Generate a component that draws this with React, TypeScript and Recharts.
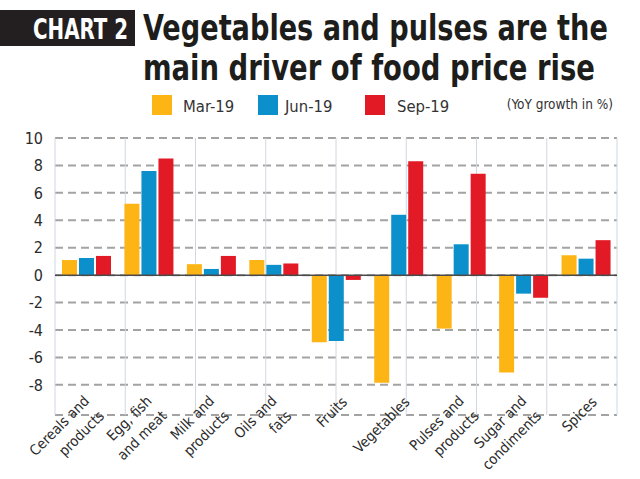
import { useLayoutEffect, useRef, useState } from 'react'
import { BarChart, Bar, XAxis, YAxis, CartesianGrid, ReferenceLine } from 'recharts'

const categories = [
  'Cereals and products',
  'Egg, fish and meat',
  'Milk and products',
  'Oils and fats',
  'Fruits',
  'Vegetables',
  'Pulses and products',
  'Sugar and condiments',
  'Spices',
]
// how each category name is broken over lines under the axis
const tickLabels = [
  ['Cereals and', 'products'],
  ['Egg, fish', 'and meat'],
  ['Milk and', 'products'],
  ['Oils and', 'fats'],
  ['Fruits'],
  ['Vegetables'],
  ['Pulses and', 'products'],
  ['Sugar and', 'condiments'],
  ['Spices'],
]
const mar19 = [1.1, 5.2, 0.8, 1.1, -4.9, -7.85, -3.9, -7.1, 1.45]
const jun19 = [1.25, 7.6, 0.45, 0.75, -4.8, 4.4, 2.25, -1.35, 1.2]
const sep19 = [1.4, 8.5, 1.4, 0.85, -0.35, 8.3, 7.4, -1.65, 2.55]
const yTicks = [-8, -6, -4, -2, 0, 2, 4, 6, 8, 10]
const separators = [1, 2, 3, 4, 5, 6, 7, 8]

const series = [
  { key: 'mar', name: 'Mar-19', color: '#FDB515' },
  { key: 'jun', name: 'Jun-19', color: '#0B90CB' },
  { key: 'sep', name: 'Sep-19', color: '#E21A25' },
]

const data = categories.map((c, i) => ({ cat: c, idx: i, mar: mar19[i], jun: jun19[i], sep: sep19[i] }))

const NARROW = '"Liberation Sans Narrow", "DejaVu Sans Condensed", sans-serif'

// squeezes a line horizontally so it spans the given width (the original uses a condensed face)
function FitText({ x, y, width, children, ...rest }: any) {
  const ref = useRef<SVGTextElement>(null)
  const [sx, setSx] = useState(1)
  useLayoutEffect(() => {
    if (ref.current) {
      const w = ref.current.getComputedTextLength()
      if (w > 0) setSx(width / w)
    }
  }, [width])
  return (
    <text ref={ref} transform={`translate(${x},${y}) scale(${sx},1)`} {...rest}>
      {children}
    </text>
  )
}

function CategoryTick({ x, y, index }: any) {
  const lines = tickLabels[index] || []
  const single = lines.length < 2
  const bx = x + (single ? 12 : 4)
  const by = y - (single ? 14 : 15)
  return (
    <g transform={`translate(${bx},${by}) rotate(-45)`}>
      <text textAnchor="end" fontSize={14.5} fill="#2b2b2b" fontFamily={NARROW}>
        {lines.map((l, i) => (
          <tspan key={i} x={0} dy={i === 0 ? 0 : 21}>{l}</tspan>
        ))}
      </text>
    </g>
  )
}

export default function App() {
  return (
    <div style={{ position: 'absolute', left: 0, top: 0, width: 640, height: 479, background: '#fff', fontFamily: NARROW }}>
      <svg width={640} height={130} style={{ position: 'absolute', left: 0, top: 0 }}>
        <rect x={0} y={10} width={135} height={36} fill="#231f20" />
        <FitText x={33} y={39} width={95} fontSize={28} fontWeight="bold" fill="#fff">CHART 2</FitText>
        <FitText x={143} y={40} width={465} fontSize={35} fontWeight="bold" fill="#1d1d1b">
          Vegetables and pulses are the
        </FitText>
        <FitText x={143} y={80} width={452} fontSize={35} fontWeight="bold" fill="#1d1d1b">
          main driver of food price rise
        </FitText>
        {series.map((s, i) => {
          const lx = [152, 258, 365][i]
          const tx = [31, 27, 32][i]
          return (
            <g key={s.key}>
              <rect x={lx} y={95} width={20} height={20} fill={s.color} />
              <text x={lx + tx} y={112} fontSize={16.5} fill="#333">{s.name}</text>
            </g>
          )
        })}
        <text x={613} y={109} fontSize={13.5} fill="#333" textAnchor="end">(YoY growth in %)</text>
      </svg>
      <BarChart
        width={640}
        height={479}
        data={data}
        margin={{ top: 138, right: 23, bottom: 0, left: 0 }}
        barCategoryGap={7}
        barGap={2}
      >
        <XAxis
          dataKey="cat"
          height={64}
          interval={0}
          tickLine={false}
          axisLine={false}
          tickSize={0}
          tick={<CategoryTick />}
        />
        <XAxis xAxisId="sep" type="number" domain={[0, 9]} ticks={separators} allowDataOverflow hide />
        <YAxis
          width={55}
          domain={[-10.2, 10]}
          ticks={yTicks}
          allowDataOverflow
          tickLine={false}
          axisLine={false}
          tickMargin={6}
          tick={{ fontSize: 16, fill: '#2b2b2b', fontFamily: NARROW }}
        />
        <CartesianGrid vertical={false} stroke="#a3a3a3" strokeWidth={2} strokeDasharray="8 5" />
        <CartesianGrid xAxisId="sep" horizontal={false} stroke="#cfd8e0" strokeWidth={1} />
        {series.map((s) => (
          <Bar key={s.key} dataKey={s.key} name={s.name} fill={s.color} isAnimationActive={false} />
        ))}
        <ReferenceLine y={0} stroke="#4a4a4a" strokeWidth={1.5} />
      </BarChart>
    </div>
  )
}
